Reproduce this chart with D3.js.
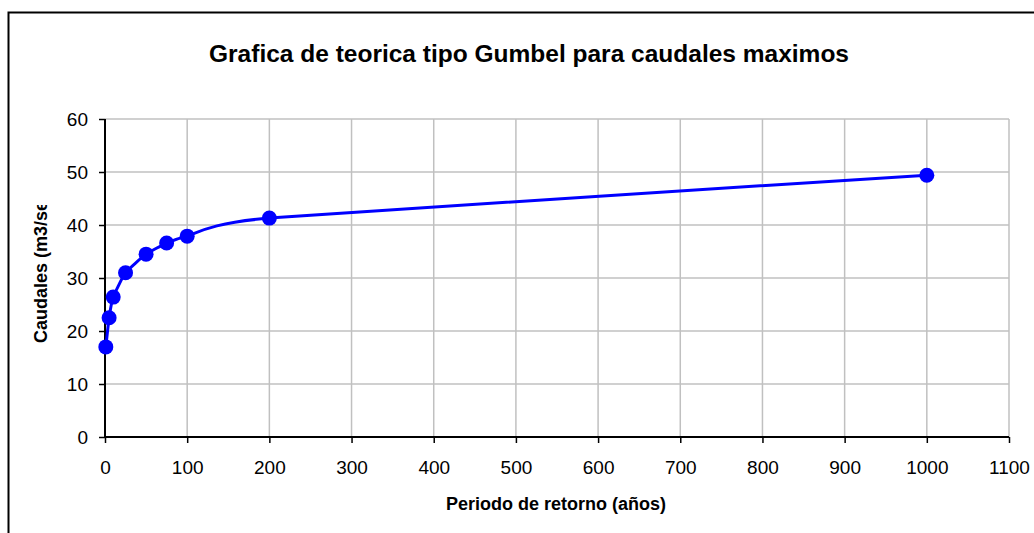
<!DOCTYPE html>
<html>
<head>
<meta charset="utf-8">
<script src="https://cdn.jsdelivr.net/npm/d3@7"></script>
<style>
  body { margin: 0; background: #fff; }
  text { font-family: "Liberation Sans", Arial, sans-serif; }
</style>
</head>
<body>
<script>
// Return periods (years) and peak flows (m3/seg)
const periods = [1, 5, 10, 25, 50, 75, 100, 200, 1000];
const flows = [17.0, 22.5, 26.4, 31.0, 34.5, 36.6, 37.9, 41.3, 49.4];
const xTicks = [0, 100, 200, 300, 400, 500, 600, 700, 800, 900, 1000, 1100];
const yTicks = [0, 10, 20, 30, 40, 50, 60];

const width = 1034;
const height = 533;
const plot = { left: 105, right: 1009, top: 119, bottom: 437 };

const svg = d3.select("body")
    .append("svg")
    .attr("width", width)
    .attr("height", height);

// Outer chart border (only top and left are visible)
svg.append("path")
    .attr("d", `M8.5,${height} L8.5,12.5 L${width},12.5`)
    .attr("fill", "none")
    .attr("stroke", "#000")
    .attr("stroke-width", 2);

// Scales
const x = d3.scaleLinear().domain([0, 1100]).range([plot.left, plot.right]);
const y = d3.scaleLinear().domain([0, 60]).range([plot.bottom, plot.top]);

// Grid lines
svg.append("g")
    .selectAll("line")
    .data(xTicks.slice(1))
    .join("line")
    .attr("x1", d => x(d)).attr("x2", d => x(d))
    .attr("y1", plot.top).attr("y2", plot.bottom)
    .attr("stroke", "#c0c0c0")
    .attr("stroke-width", 1.5);

svg.append("g")
    .selectAll("line")
    .data(yTicks.slice(1))
    .join("line")
    .attr("x1", plot.left).attr("x2", plot.right)
    .attr("y1", d => y(d)).attr("y2", d => y(d))
    .attr("stroke", "#c0c0c0")
    .attr("stroke-width", 1.5);

// Axes
const xAxis = d3.axisBottom(x).tickValues(xTicks).tickFormat(d3.format("d")).tickSize(6).tickPadding(18);
const yAxis = d3.axisLeft(y).tickValues(yTicks).tickFormat(d3.format("d")).tickSize(6).tickPadding(11);

svg.append("g")
    .attr("transform", `translate(0,${plot.bottom})`)
    .call(xAxis)
    .call(g => g.select(".domain").attr("stroke-width", 2).attr("d", `M${plot.left},0H${plot.right}`))
    .call(g => g.selectAll(".tick line").attr("stroke-width", 1.5))
    .call(g => g.selectAll(".tick text").attr("font-size", 19).attr("fill", "#000"));

svg.append("g")
    .attr("transform", `translate(${plot.left},0)`)
    .call(yAxis)
    .call(g => g.select(".domain").attr("stroke-width", 2).attr("d", `M0,${plot.top}V${plot.bottom}`))
    .call(g => g.selectAll(".tick line").attr("stroke-width", 1.5))
    .call(g => g.selectAll(".tick text").attr("font-size", 19).attr("fill", "#000"));

// Data line (smoothed like the spreadsheet chart)
const data = periods.map((p, i) => ({ p: p, q: flows[i] }));
const line = d3.line()
    .x(d => x(d.p))
    .y(d => y(d.q))
    .curve(d3.curveCardinal.tension(0.5));

svg.append("path")
    .datum(data)
    .attr("d", line)
    .attr("fill", "none")
    .attr("stroke", "#0000ff")
    .attr("stroke-width", 3);

svg.append("g")
    .selectAll("circle")
    .data(data)
    .join("circle")
    .attr("cx", d => x(d.p))
    .attr("cy", d => y(d.q))
    .attr("r", 7.5)
    .attr("fill", "#0000ff");

// Title
svg.append("text")
    .attr("x", 529)
    .attr("y", 61.5)
    .attr("text-anchor", "middle")
    .attr("font-size", 24.5)
    .attr("font-weight", "bold")
    .text("Grafica de teorica tipo Gumbel para caudales maximos");

// Axis titles
svg.append("text")
    .attr("x", 556)
    .attr("y", 510)
    .attr("text-anchor", "middle")
    .attr("font-size", 18)
    .attr("font-weight", "bold")
    .text("Periodo de retorno (años)");

// Y title is clipped at the top, as in the original
svg.append("clipPath")
    .attr("id", "yclip")
    .append("rect")
    .attr("x", 20).attr("y", 205).attr("width", 40).attr("height", 160);

svg.append("g")
    .attr("clip-path", "url(#yclip)")
    .append("text")
    .attr("transform", "translate(47,343) rotate(-90)")
    .attr("text-anchor", "start")
    .attr("font-size", 18)
    .attr("font-weight", "bold")
    .text("Caudales (m3/seg)");
</script>
</body>
</html>
